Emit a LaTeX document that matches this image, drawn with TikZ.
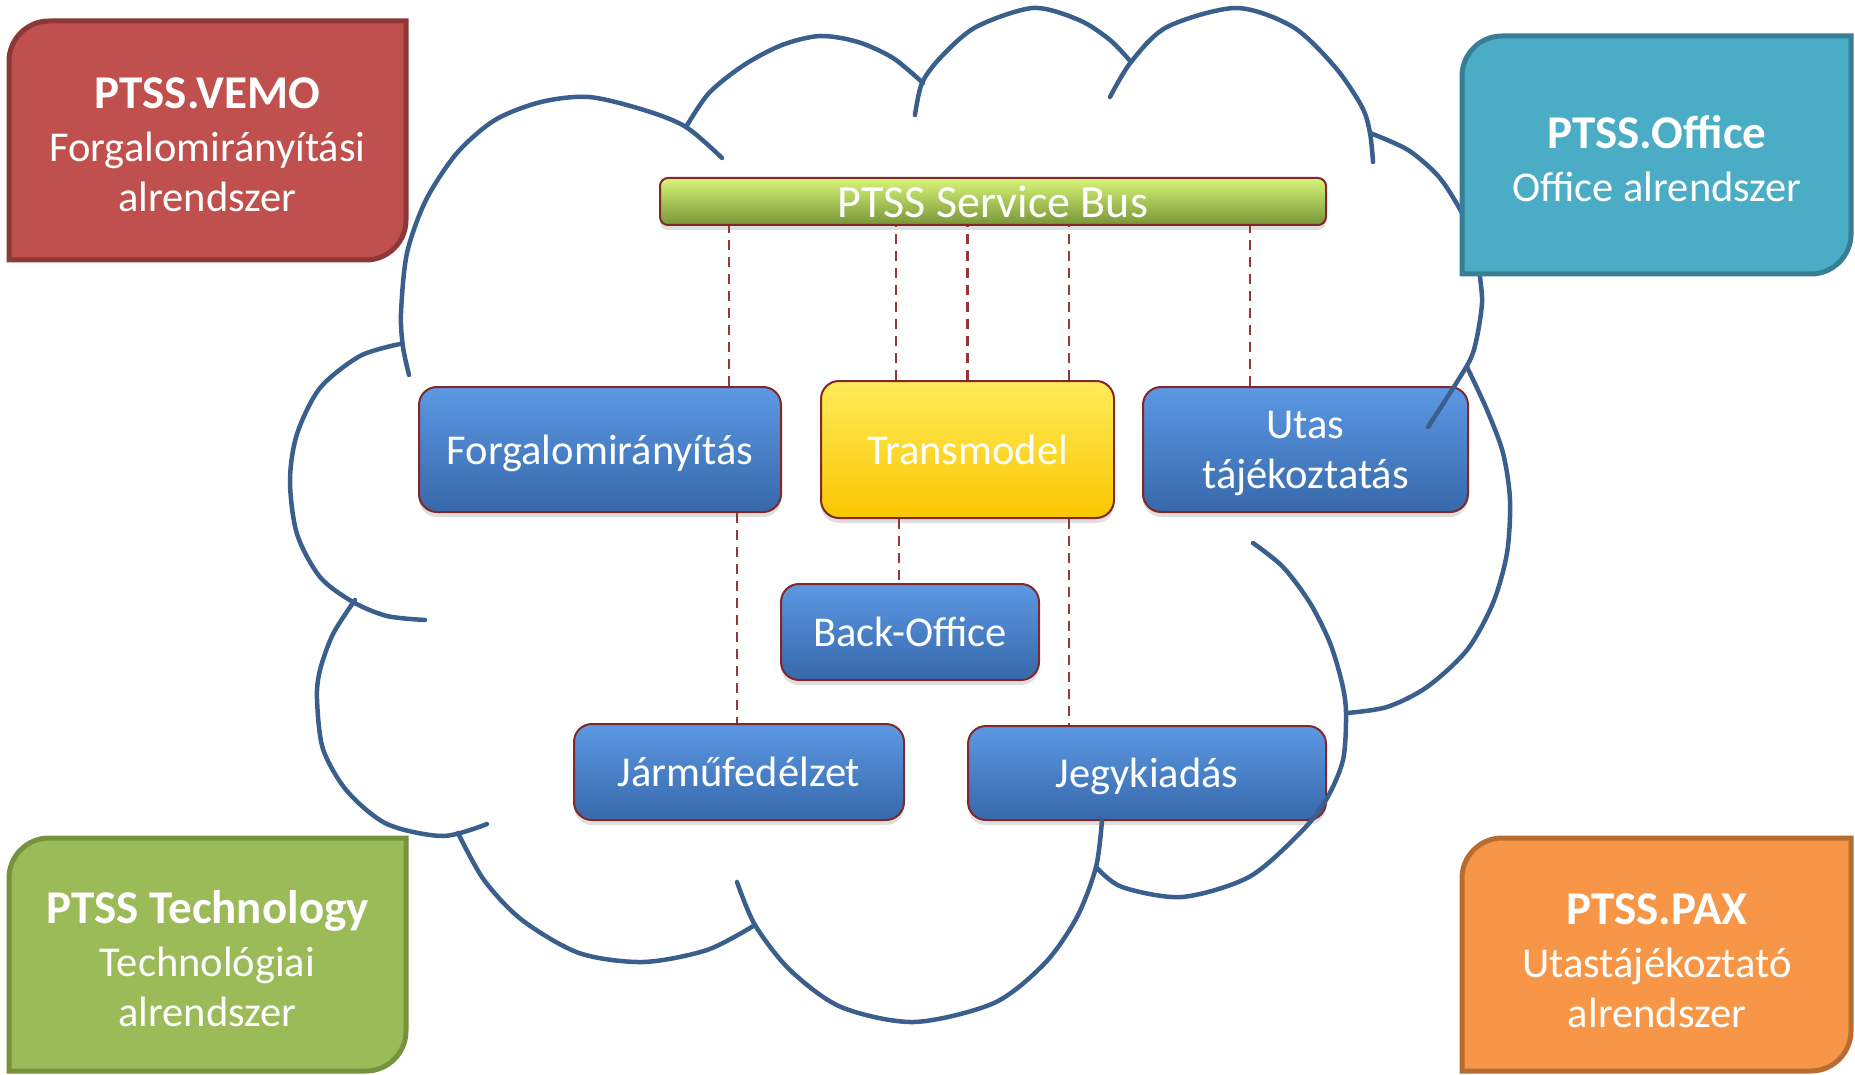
\documentclass[tikz,border=0pt]{standalone}
\usepackage{fontspec}
\setmainfont{Carlito}
\usepackage{tikz}
\usetikzlibrary{positioning}
\usetikzlibrary{shadows}

\definecolor{cloudblue}{RGB}{58,95,140}
\definecolor{dashred}{RGB}{150,55,55}
\definecolor{edgered}{RGB}{130,40,40}
\definecolor{bluetop}{RGB}{92,152,228}
\definecolor{bluemid}{RGB}{64,128,210}
\definecolor{bluebot}{RGB}{55,104,170}
\definecolor{yellowtop}{RGB}{255,236,90}
\definecolor{yellowmid}{RGB}{255,206,0}
\definecolor{yellowbot}{RGB}{250,198,0}
\definecolor{bustop}{RGB}{215,245,120}
\definecolor{busmid}{RGB}{160,198,75}
\definecolor{busbot}{RGB}{120,150,55}
\definecolor{vemofill}{RGB}{192,80,77}
\definecolor{vemoedge}{RGB}{140,56,54}
\definecolor{officefill}{RGB}{75,172,198}
\definecolor{officeedge}{RGB}{55,127,148}
\definecolor{techfill}{RGB}{155,187,89}
\definecolor{techedge}{RGB}{118,146,60}
\definecolor{paxfill}{RGB}{247,150,70}
\definecolor{paxedge}{RGB}{183,109,50}

\begin{document}
\begin{tikzpicture}[x=1pt, y=-1pt,
    cloudline/.style={draw=cloudblue, line width=4.5pt, line cap=round},
    link/.style={draw=dashred, line width=2.5pt, dash pattern=on 10pt off 7pt},
    module/.style={rectangle, rounded corners=18pt, draw=edgered, line width=2pt,
        text=white, font=\fontsize{42.5}{50}\selectfont, align=center, inner sep=0pt, text depth=0pt,
        drop shadow={shadow xshift=0pt, shadow yshift=-5pt, opacity=0.25}},
    bluebox/.style={module, top color=bluetop, middle color=bluemid, bottom color=bluebot},
    yellowbox/.style={module, top color=yellowtop, middle color=yellowmid, bottom color=yellowbot},
    corner/.style={line width=5pt},
    cornertext/.style={text=white, align=center, font=\fontsize{42.5}{50}\selectfont}]

    \useasboundingbox (0,0) rectangle (1855,1075);

    % Define nodes
    \node[module, rounded corners=8pt, top color=bustop, middle color=busmid, bottom color=busbot,
        minimum width=666, minimum height=47, font=\fontsize{46}{50}\selectfont] (bus) at (993,201.5) {PTSS Service Bus};
    \node[bluebox, minimum width=362, minimum height=125] (forg) at (600,449.5) {Forgalomirányítás};
    \node[yellowbox, minimum width=293, minimum height=137] (trans) at (967.5,449.5) {Transmodel};
    \node[bluebox, minimum width=325, minimum height=125] (utas) at (1305.5,449.5) {Utas\\tájékoztatás};
    \node[bluebox, minimum width=258, minimum height=96, below=64pt of trans, xshift=-57.5pt] (back) {Back-Office};
    \node[bluebox, minimum width=330, minimum height=96, below=210pt of forg, xshift=139pt] (jarmu) {Járműfedélzet};
    \node[bluebox, minimum width=358, minimum height=94, below=206pt of trans, xshift=179.5pt] (jegy) {Jegykiadás};

    % Connect the nodes
    \coordinate (l1) at ([xshift=129pt]forg.north);
    \coordinate (l2) at ([xshift=-71.5pt]trans.north);
    \coordinate (l3) at (trans.north);
    \coordinate (l4) at ([xshift=101.5pt]trans.north);
    \coordinate (l5) at ([xshift=-55.5pt]utas.north);
    \foreach \c in {l1,l2,l3,l4,l5}
        \draw[link] (\c) -- (\c |- bus.south);
    \coordinate (d1) at ([xshift=137pt]forg.south);
    \coordinate (d2) at ([xshift=-68.5pt]trans.south);
    \coordinate (d3) at ([xshift=101.5pt]trans.south);
    \draw[link] (d1) -- (d1 |- jarmu.north);
    \draw[link] (d2) -- (d2 |- back.north);
    \draw[link] (d3) -- (d3 |- jegy.north);

    % Cloud
    \draw[cloudline] plot[smooth] coordinates {(722,158) (686,127) (644,110) (589,97) (541,102) (495,120) (457,153) (426,200) (407,253) (401,313) (403,347) (409,375)};
    \draw[cloudline] plot[smooth] coordinates {(686,127) (709,93) (744,65) (782,45) (820,36) (858,42) (893,58) (923,83)};
    \draw[cloudline] plot[smooth] coordinates {(915,115) (922,83) (941,57) (976,27) (1033,8) (1079,20) (1110,40) (1131,62)};
    \draw[cloudline] plot[smooth] coordinates {(1110,97) (1131,62) (1167,27) (1236,8) (1293,27) (1335,67) (1362,107) (1370,133) (1373,162)};
    \draw[cloudline] plot[smooth] coordinates {(1370,133) (1408,150) (1439,177) (1462,213) (1476,245) (1480,277) (1482,303) (1477,337) (1470,360) (1450,393) (1428,427)};
    \draw[cloudline] plot[smooth] coordinates {(1467,367) (1487,410) (1503,453) (1510,500) (1507,553) (1493,603) (1467,650) (1427,687) (1387,707) (1347,713)};
    \draw[cloudline] plot[smooth] coordinates {(1253,543) (1283,567) (1310,603) (1330,643) (1342,683) (1346,713) (1343,760) (1326,800) (1300,833) (1249,877) (1182,897) (1122,887) (1096,867)};
    \draw[cloudline] plot[smooth] coordinates {(1102,820) (1096,867) (1077,917) (1045,963) (994,1003) (914,1022) (841,1007) (790,970) (755,925) (737,882)};
    \draw[cloudline] plot[smooth] coordinates {(755,925) (707,950) (643,962) (579,953) (522,920) (484,880) (458,833)};
    \draw[cloudline] plot[smooth] coordinates {(355,600) (333,634) (320,670) (317,699) (323,749) (347,791) (387,824) (443,836) (487,824)};
    \draw[cloudline] plot[smooth] coordinates {(400,344) (360,356) (320,388) (297,434) (290,481) (297,534) (320,577) (353,602) (387,616) (425,620)};

    % Subsystems in the corners
    \draw[corner, fill=vemofill, draw=vemoedge] (9,260) -- (9,61) .. controls (9,39) and (27,21) .. (49,21) -- (406,21) -- (406,220) .. controls (406,242) and (388,260) .. (366,260) -- cycle;
    \draw[corner, fill=officefill, draw=officeedge] (1462,274) -- (1462,76) .. controls (1462,54) and (1480,36) .. (1502,36) -- (1851,36) -- (1851,234) .. controls (1851,256) and (1833,274) .. (1811,274) -- cycle;
    \draw[corner, fill=techfill, draw=techedge] (9,1071) -- (9,878) .. controls (9,856) and (27,838) .. (49,838) -- (406,838) -- (406,1031) .. controls (406,1053) and (388,1071) .. (366,1071) -- cycle;
    \draw[corner, fill=paxfill, draw=paxedge] (1462,1071) -- (1462,878) .. controls (1462,856) and (1480,838) .. (1502,838) -- (1851,838) -- (1851,1031) .. controls (1851,1053) and (1833,1071) .. (1811,1071) -- cycle;

    \node[cornertext] (vemo) at (207.5,144.5) {{\bfseries\fontsize{47}{50}\selectfont PTSS.VEMO}\\[3pt]Forgalomirányítási\\alrendszer};
    \node[cornertext] (office) at (1657,158.5) {{\bfseries\fontsize{47}{50}\selectfont PTSS.Office}\\[3pt]Office alrendszer};
    \node[cornertext] (tech) at (207.5,958.5) {{\bfseries\fontsize{47}{50}\selectfont PTSS Technology}\\[3pt]Technológiai\\alrendszer};
    \node[cornertext] (pax) at (1657,960.5) {{\bfseries\fontsize{47}{50}\selectfont PTSS.PAX}\\[3pt]Utastájékoztató\\alrendszer};

\end{tikzpicture}
\end{document}
